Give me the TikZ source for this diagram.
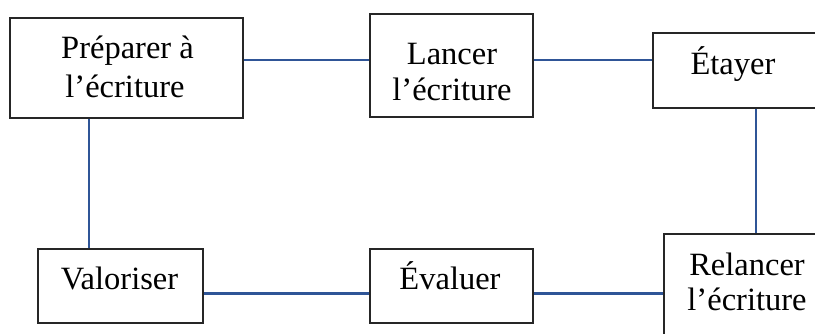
\documentclass[tikz,border=0pt]{standalone}
\usepackage{fontspec}
\setmainfont{Liberation Serif}
\definecolor{lnk}{RGB}{47,85,151}
\begin{document}
\begin{tikzpicture}[x=1pt,y=-1pt,
  box/.style={draw=black!85, line width=1.3pt, fill=white, inner sep=0pt},
  lbl/.style={anchor=base, inner sep=0pt, font=\fontsize{32.5}{38}\selectfont},
  link/.style={draw=lnk, line width=2.6pt}]
\useasboundingbox (0,0) rectangle (815,333);
\clip (0,0) rectangle (815,333);
% boxes
\node[box, minimum width=233pt, minimum height=100pt] (b1) at (126.5,68) {};
\node[box, minimum width=163pt, minimum height=103pt] (b2) at (451.5,65.5) {};
\node[box, minimum width=163pt, minimum height=75pt] (b3) at (734.5,70.5) {};
\node[box, minimum width=163pt, minimum height=112pt] (b4) at (745.5,290) {};
\node[box, minimum width=163pt, minimum height=74pt] (b5) at (451.5,286) {};
\node[box, minimum width=165pt, minimum height=74pt] (b6) at (120.5,286) {};
% texts
\node[lbl] (t1a) at (127.5,58) {Préparer à};
\node[lbl] (t1b) at (125,97) {l’écriture};
\node[lbl] (t2a) at (452,64) {Lancer};
\node[lbl] (t2b) at (452,100) {l’écriture};
\node[lbl] (t3) at (733,74) {Étayer};
\node[lbl] (t4a) at (747,275) {Relancer};
\node[lbl] (t4b) at (747,310) {l’écriture};
\node[lbl] (t5) at (450,289) {Évaluer};
\node[lbl] (t6) at (119.5,289) {Valoriser};
% reference coordinates
\coordinate (ytop) at (0,60);
\coordinate (ybot) at (0,293.5);
\coordinate (xl) at (89,0);
\coordinate (xr) at (756,0);
% links
\draw[link] (b1.east |- ytop) -- (b2.west |- ytop);
\draw[link] (b2.east |- ytop) -- (b3.west |- ytop);
\draw[link] (b3.south -| xr) -- (b4.north -| xr);
\draw[link] (b4.west |- ybot) -- (b5.east |- ybot);
\draw[link] (b5.west |- ybot) -- (b6.east |- ybot);
\draw[link] (b6.north -| xl) -- (b1.south -| xl);
\end{tikzpicture}
\end{document}
